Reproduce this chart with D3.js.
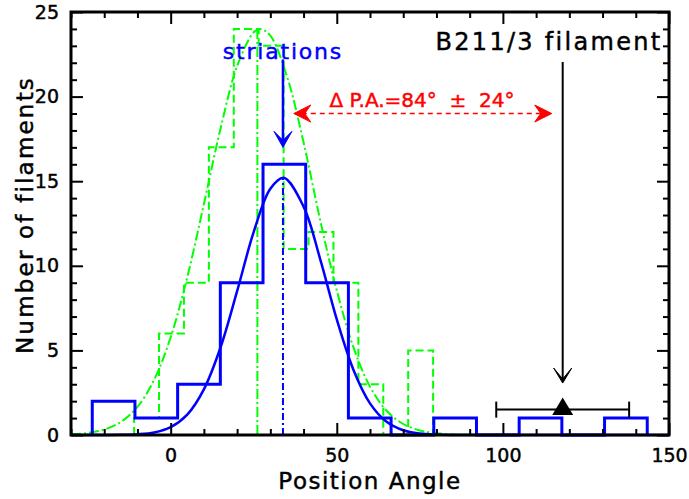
<!DOCTYPE html>
<html>
<head>
<meta charset="utf-8">
<script src="https://cdn.jsdelivr.net/npm/d3@7"></script>
<style>
body { margin: 0; background: #ffffff; }
text { font-family: "DejaVu Sans", sans-serif; stroke-width: 0.45px; }
</style>
</head>
<body>
<div id="chart"></div>
<script>
// striations histogram (blue, solid)
const blue_edges = [-23.6, -10.75, 2.1, 14.95, 27.8, 40.65, 53.5, 66.35, 79.2, 92.05, 104.9, 117.75, 130.6, 143.45];
const blue_counts = [2, 1, 3, 9, 16, 9, 1, 0, 1, 0, 1, 0, 1];
// second histogram (green, dashed)
const green_edges = [-11, -3.5, 4, 11.5, 19, 26.5, 34, 41.5, 49, 56.5, 64, 71.5, 79];
const green_counts = [1, 6, 9, 17, 24, 23, 11, 12, 9, 3, 0, 5];

// fitted curves
const blue_fit_x = [-30, -25, -20, -15, -10, -5, 0, 5, 10, 15, 20, 25, 30, 34, 40, 45, 50, 55, 60, 65, 70, 75, 80, 85, 90, 100, 150];
const blue_fit_y = [0, 0, 0.002, 0.011, 0.044, 0.15, 0.47, 1.21, 2.7, 5.17, 8.5, 12.0, 14.55, 15.2, 13.5, 10.4, 6.83, 3.86, 1.87, 0.78, 0.28, 0.086, 0.023, 0.005, 0.001, 0, 0];
const green_fit_x = [-30, -25, -20, -15, -10, -5, 0, 5, 10, 15, 20, 25, 27, 30, 35, 40, 45, 50, 55, 60, 65, 70, 75, 80, 85, 90, 100, 150];
const green_fit_y = [0.04, 0.12, 0.32, 0.77, 1.66, 3.25, 5.78, 9.33, 13.65, 18.1, 21.8, 23.8, 24, 23.6, 21.2, 17.3, 12.7, 8.54, 5.19, 2.86, 1.43, 0.65, 0.27, 0.1, 0.03, 0.01, 0, 0];

const blue_peak = [33.8, 15.2];
const green_peak = [26.1, 24];
const striation_arrow = [33.8, 22.2, 17.0];
const filament_arrow = [118, 22.05, 3.07];
const filament_pa = [118, 1.5, 98, 138];
const delta_arrow = [37.05, 114.7, 19.0];

const x_ticks = [0, 50, 100, 150];
const y_ticks = [0, 5, 10, 15, 20, 25];

const width = 689, height = 499;
const margin = {top: 12, right: 20, bottom: 64, left: 71};

var svg = d3.select('#chart')
	.append('svg')
	.attr('width', width)
	.attr('height', height)

var x = d3.scaleLinear()
	.domain([-30, 150])
	.range([margin.left, width - margin.right])
var y = d3.scaleLinear()
	.domain([0, 25])
	.range([height - margin.bottom, margin.top])

function step_points(edges, counts) {
	var pts = [[edges[0], 0]];
	counts.forEach(function(c, i) {
		pts.push([edges[i], c]);
		pts.push([edges[i + 1], c]);
	});
	pts.push([edges[edges.length - 1], 0]);
	return pts;
}

var line = d3.line()
	.x(d => x(d[0]))
	.y(d => y(d[1]))
var smooth = d3.line()
	.x(d => x(d[0]))
	.y(d => y(d[1]))
	.curve(d3.curveCatmullRom)

var plot = svg.append('g')

// green histogram and fit
plot.append('path')
	.attr('d', line(step_points(green_edges, green_counts)))
	.attr('fill', 'none')
	.attr('stroke', '#00ff00')
	.attr('stroke-width', 2)
	.attr('stroke-dasharray', '8,4')
plot.append('path')
	.attr('d', smooth(d3.zip(green_fit_x, green_fit_y)))
	.attr('fill', 'none')
	.attr('stroke', '#00ff00')
	.attr('stroke-width', 2)
	.attr('stroke-dasharray', '10,3,2,3')
plot.append('path')
	.attr('d', line([[green_peak[0], 0], green_peak]))
	.attr('stroke', '#00ff00')
	.attr('stroke-width', 2)
	.attr('stroke-dasharray', '10,3,2,3')

// blue histogram and fit
plot.append('path')
	.attr('d', line(step_points(blue_edges, blue_counts)))
	.attr('fill', 'none')
	.attr('stroke', '#0000ff')
	.attr('stroke-width', 3)
plot.append('path')
	.attr('d', smooth(d3.zip(blue_fit_x, blue_fit_y)))
	.attr('fill', 'none')
	.attr('stroke', '#0000ff')
	.attr('stroke-width', 2.5)
plot.append('path')
	.attr('d', line([[blue_peak[0], 0], blue_peak]))
	.attr('stroke', '#0000ff')
	.attr('stroke-width', 2)
	.attr('stroke-dasharray', '7,3,2,3')

function arrow_head(px, py, angle, len, half, notch, color) {
	plot.append('path')
		.attr('d', 'M0,0L' + (-len) + ',' + (-half) + 'L' + (-notch) + ',0L' + (-len) + ',' + half + 'Z')
		.attr('transform', 'translate(' + px + ',' + py + ') rotate(' + angle + ')')
		.attr('fill', color)
		.attr('stroke', color)
		.attr('stroke-width', 1)
		.attr('stroke-linejoin', 'miter')
}

// striations arrow
plot.append('line')
	.attr('x1', x(striation_arrow[0])).attr('x2', x(striation_arrow[0]))
	.attr('y1', y(striation_arrow[1])).attr('y2', y(striation_arrow[2]) - 4)
	.attr('stroke', '#0000ff')
	.attr('stroke-width', 2.5)
arrow_head(x(striation_arrow[0]), y(striation_arrow[2]), 90, 16, 9, 7, '#0000ff')

// filament arrow
plot.append('line')
	.attr('x1', x(filament_arrow[0])).attr('x2', x(filament_arrow[0]))
	.attr('y1', y(filament_arrow[1])).attr('y2', y(filament_arrow[2]) - 3)
	.attr('stroke', 'black')
	.attr('stroke-width', 2)
arrow_head(x(filament_arrow[0]), y(filament_arrow[2]), 90, 15, 9, 4, 'black')

// filament position angle with error bar
var ey = y(filament_pa[1]);
plot.append('line')
	.attr('x1', x(filament_pa[2])).attr('x2', x(filament_pa[3]))
	.attr('y1', ey).attr('y2', ey)
	.attr('stroke', 'black')
	.attr('stroke-width', 2)
;[filament_pa[2], filament_pa[3]].forEach(function(v) {
	plot.append('line')
		.attr('x1', x(v)).attr('x2', x(v))
		.attr('y1', ey - 8).attr('y2', ey + 8)
		.attr('stroke', 'black')
		.attr('stroke-width', 2)
})
plot.append('path')
	.attr('d', 'M0,-12L10.5,5.5L-10.5,5.5Z')
	.attr('transform', 'translate(' + x(filament_pa[0]) + ',' + ey + ')')
	.attr('fill', 'black')

// delta P.A. double arrow
var dy = y(delta_arrow[2]);
plot.append('line')
	.attr('x1', x(delta_arrow[0]) + 8).attr('x2', x(delta_arrow[1]) - 8)
	.attr('y1', dy).attr('y2', dy)
	.attr('stroke', '#ff0000')
	.attr('stroke-width', 1.5)
	.attr('stroke-dasharray', '5,4')
arrow_head(x(delta_arrow[0]), dy, 180, 17, 8.5, 11, '#ff0000')
arrow_head(x(delta_arrow[1]), dy, 0, 17, 8.5, 11, '#ff0000')

// labels inside the plot
plot.append('text')
	.attr('x', x(33.8)).attr('y', 59)
	.attr('text-anchor', 'middle')
	.style('font-size', '22px')
	.style('letter-spacing', '1.8px')
	.attr('fill', '#0000ff')
	.attr('stroke', '#0000ff')
	.text('striations')
plot.append('text')
	.attr('x', 549).attr('y', 50)
	.attr('text-anchor', 'middle')
	.style('font-size', '24px')
	.style('letter-spacing', '2.3px')
	.attr('fill', 'black')
	.attr('stroke', 'black')
	.text('B211/3 filament')
plot.append('text')
	.attr('x', 422).attr('y', 106.5)
	.attr('text-anchor', 'middle')
	.style('font-size', '20px')
	.style('white-space', 'pre')
	.attr('fill', '#ff0000')
	.attr('stroke', '#ff0000')
	.text('\u0394 P.A.=84\u00b0  \u00b1  24\u00b0')

// axes: ticks inward on all four sides
var x0 = margin.left, x1 = width - margin.right;
var y0 = height - margin.bottom, y1 = margin.top;

function axis_group(axis, tx, ty) {
	var g = svg.append('g')
		.attr('transform', 'translate(' + tx + ',' + ty + ')')
		.call(axis)
	g.select('.domain').remove()
	g.selectAll('.tick line').attr('stroke', 'black').attr('stroke-width', 2)
	g.selectAll('text')
		.style('font-family', '"DejaVu Sans", sans-serif')
		.style('font-size', '19px')
		.attr('fill', 'black')
		.attr('stroke', 'black')
	return g
}

var x_minor = d3.range(-30, 151, 10).filter(v => x_ticks.indexOf(v) < 0);
var y_minor = d3.range(0, 26, 1).filter(v => y_ticks.indexOf(v) < 0);

axis_group(d3.axisBottom(x).tickValues(x_ticks).tickSizeInner(-12).tickSizeOuter(0).tickPadding(14).tickFormat(d3.format('d')), 0, y0)
axis_group(d3.axisBottom(x).tickValues(x_minor).tickSizeInner(-6).tickSizeOuter(0).tickFormat(''), 0, y0)
axis_group(d3.axisTop(x).tickValues(x_ticks).tickSizeInner(-12).tickSizeOuter(0).tickFormat(''), 0, y1)
axis_group(d3.axisTop(x).tickValues(x_minor).tickSizeInner(-6).tickSizeOuter(0).tickFormat(''), 0, y1)
axis_group(d3.axisLeft(y).tickValues(y_ticks).tickSizeInner(-12).tickSizeOuter(0).tickPadding(12).tickFormat(d3.format('d')), x0, 0)
axis_group(d3.axisLeft(y).tickValues(y_minor).tickSizeInner(-6).tickSizeOuter(0).tickFormat(''), x0, 0)
axis_group(d3.axisRight(y).tickValues(y_ticks).tickSizeInner(-12).tickSizeOuter(0).tickFormat(''), x1, 0)
axis_group(d3.axisRight(y).tickValues(y_minor).tickSizeInner(-6).tickSizeOuter(0).tickFormat(''), x1, 0)

svg.append('rect')
	.attr('x', x0).attr('y', y1)
	.attr('width', x1 - x0).attr('height', y0 - y1)
	.attr('fill', 'none')
	.attr('stroke', 'black')
	.attr('stroke-width', 3)

// axis titles
svg.append('text')
	.attr('x', (x0 + x1) / 2).attr('y', 489)
	.attr('text-anchor', 'middle')
	.style('font-size', '23px')
	.style('letter-spacing', '1.5px')
	.attr('stroke', 'black')
	.text('Position Angle')
svg.append('text')
	.attr('transform', 'translate(33,215) rotate(-90)')
	.attr('text-anchor', 'middle')
	.style('font-size', '23px')
	.style('letter-spacing', '2.2px')
	.attr('stroke', 'black')
	.text('Number of filaments')
</script>
</body>
</html>
